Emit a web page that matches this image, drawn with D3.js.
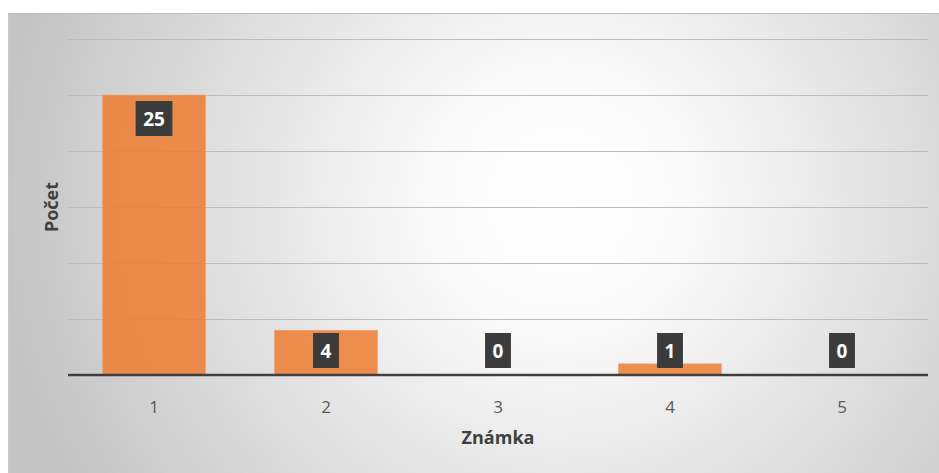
<!DOCTYPE html>
<html>
<head>
<meta charset="utf-8">
<script src="https://cdn.jsdelivr.net/npm/d3@7"></script>
<style>
  body { margin: 0; background: #fff; }
  svg { display: block; font-family: "Open Sans", "Noto Sans", sans-serif; }
</style>
</head>
<body>
<div id="chart"></div>
<script>
var categories = ["1", "2", "3", "4", "5"];
var counts = [25, 4, 0, 1, 0];
var yTicks = [0, 5, 10, 15, 20, 25, 30];

var width = 939, height = 473;
var margin = { top: 39, right: 11, bottom: 98, left: 68 };

var svg = d3.select("#chart")
    .append("svg")
    .attr("width", width)
    .attr("height", height);

var defs = svg.append("defs");
var grad = defs.append("radialGradient")
    .attr("id", "bg")
    .attr("gradientUnits", "userSpaceOnUse")
    .attr("cx", 560).attr("cy", 200).attr("r", 560);
grad.append("stop").attr("offset", "0%").attr("stop-color", "#ffffff");
grad.append("stop").attr("offset", "25%").attr("stop-color", "#f9f9f9");
grad.append("stop").attr("offset", "100%").attr("stop-color", "#c4c4c4");

// chart area background
svg.append("rect")
    .attr("x", 8).attr("y", 13)
    .attr("width", width - 8).attr("height", height - 13)
    .attr("fill", "url(#bg)");
svg.append("line")
    .attr("x1", 8).attr("x2", width)
    .attr("y1", 13.5).attr("y2", 13.5)
    .attr("stroke", "#bdbdbd");
svg.append("line")
    .attr("x1", 8.5).attr("x2", 8.5)
    .attr("y1", 13).attr("y2", height)
    .attr("stroke", "#c8c8c8");

var x = d3.scaleBand()
    .domain(categories)
    .range([margin.left, width - margin.right])
    .paddingInner(0.4)
    .paddingOuter(0.2);

var y = d3.scaleLinear()
    .domain([0, 30])
    .range([height - margin.bottom, margin.top]);

// gridlines
svg.append("g")
    .selectAll("line")
    .data(yTicks.slice(1))
    .enter()
    .append("line")
    .attr("x1", margin.left)
    .attr("x2", width - margin.right)
    .attr("y1", function (d) { return Math.round(y(d)) + 0.5; })
    .attr("y2", function (d) { return Math.round(y(d)) + 0.5; })
    .attr("stroke", "#bcbcbc")
    .attr("stroke-width", 1);

// bars
svg.append("g")
    .selectAll("rect")
    .data(counts)
    .enter()
    .append("rect")
    .attr("x", function (d, i) { return x(categories[i]); })
    .attr("y", function (d) { return y(d); })
    .attr("width", x.bandwidth())
    .attr("height", function (d) { return y(0) - y(d); })
    .attr("fill", "#ed7d31")
    .attr("fill-opacity", 0.85)
    .attr("stroke", "#f4a877")
    .attr("stroke-width", d => d > 0 ? 0.6 : 0);

// baseline
svg.append("line")
    .attr("x1", margin.left)
    .attr("x2", width - margin.right)
    .attr("y1", y(0))
    .attr("y2", y(0))
    .attr("stroke", "#3f3f3f")
    .attr("stroke-width", 2.5);

// x axis tick labels
svg.append("g")
    .selectAll("text")
    .data(categories)
    .enter()
    .append("text")
    .attr("x", function (d) { return x(d) + x.bandwidth() / 2; })
    .attr("y", y(0) + 38)
    .attr("text-anchor", "middle")
    .attr("font-size", 17)
    .attr("fill", "#595959")
    .text(function (d) { return d; });

// data labels
var labels = svg.append("g")
    .selectAll("g")
    .data(counts)
    .enter()
    .append("g");

labels.each(function (d, i) {
    var g = d3.select(this);
    var cx = x(categories[i]) + x.bandwidth() / 2;
    var top = Math.min(y(d) + 6, y(0) - 42);
    var t = g.append("text")
        .attr("x", cx)
        .attr("y", top + 25)
        .attr("text-anchor", "middle")
        .attr("font-size", 19)
        .attr("font-weight", "bold")
        .attr("fill", "#ffffff")
        .text(d);
    var w = t.node().getComputedTextLength() + 15;
    g.insert("rect", "text")
        .attr("x", cx - w / 2)
        .attr("y", top)
        .attr("width", w)
        .attr("height", 35)
        .attr("fill", "#3b3b3b");
});

// axis titles
svg.append("text")
    .attr("x", (margin.left + width - margin.right) / 2)
    .attr("y", 444)
    .attr("text-anchor", "middle")
    .attr("font-size", 18)
    .attr("font-weight", "bold")
    .attr("fill", "#404040")
    .text("Známka");

svg.append("text")
    .attr("transform", "translate(58," + ((y(0) + y(30)) / 2) + ") rotate(-90)")
    .attr("text-anchor", "middle")
    .attr("font-size", 18)
    .attr("font-weight", "bold")
    .attr("fill", "#404040")
    .text("Počet");
</script>
</body>
</html>
